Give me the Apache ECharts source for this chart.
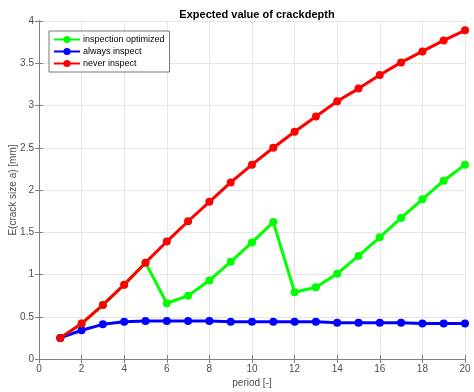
<!DOCTYPE html>
<html><head><meta charset="utf-8">
<script src="https://cdn.jsdelivr.net/npm/echarts@6/dist/echarts.min.js"></script>
<style>html,body{margin:0;padding:0;background:#fff}#c{width:474px;height:392px}</style>
</head><body><div id="c"></div>
<script>
const periods = [1,2,3,4,5,6,7,8,9,10,11,12,13,14,15,16,17,18,19,20];
const inspectionOptimized = [0.25,0.42,0.64,0.88,1.14,0.66,0.75,0.93,1.15,1.38,1.62,0.79,0.85,1.01,1.22,1.44,1.67,1.89,2.11,2.30];
const alwaysInspect = [0.25,0.34,0.41,0.44,0.45,0.45,0.45,0.45,0.44,0.44,0.44,0.44,0.44,0.43,0.43,0.43,0.43,0.42,0.42,0.42];
const neverInspect = [0.25,0.42,0.64,0.88,1.14,1.39,1.63,1.86,2.09,2.30,2.50,2.69,2.87,3.05,3.20,3.36,3.51,3.64,3.77,3.89];
const seriesNames = ['inspection optimized','always inspect','never inspect'];
const colors = ['#00ff00','#0000ff','#ff0000'];

const font = 'Liberation Sans, Arial, Helvetica, sans-serif';
const axisGray = '#4d4d4d';
function pairs(vals){ return periods.map((p,i)=>[p, vals[i]]); }
function mk(name, vals, color){
  return {name, type:'line', data: pairs(vals), color,
    lineStyle:{width:3,color}, itemStyle:{color},
    symbol:'circle', symbolSize:8, showSymbol:true, animation:false, z:2};
}
const chart = echarts.init(document.getElementById('c'), null, {renderer:'canvas'});
const baseAxis = {
  axisLine:{show:true,lineStyle:{color:'#808080',width:1}},
  axisTick:{show:true,inside:true,length:4,lineStyle:{color:'#808080'}},
  axisLabel:{color:axisGray,fontFamily:font,fontSize:10,margin:5},
};
chart.setOption({
  animation:false,
  title:{text:'Expected value of crackdepth', left:252, top:4, textAlign:'center',
    textStyle:{fontFamily:font,fontSize:11,fontWeight:'bold',color:'#000'}},
  grid:{left:39,right:9,top:21,bottom:33,containLabel:false,outerBoundsMode:'none'},
  legend:{data:seriesNames, orient:'vertical', left:49, top:31,
    itemWidth:26,itemHeight:9,itemGap:3,
    backgroundColor:'#fff', borderColor:'#555', borderWidth:0.8,
    padding:[4,5,4,4],
    textStyle:{fontFamily:font,fontSize:9,color:'#000',padding:[0,0,0,-2]}},
  xAxis:[
    Object.assign({type:'value',min:0,max:20,interval:2,position:'bottom',
      name:'period [-]',nameLocation:'middle',nameGap:19,nameMoveOverlap:false,
      nameTextStyle:{fontFamily:font,fontSize:10,color:axisGray},
      splitLine:{show:true,lineStyle:{color:'#e6e6e6',width:1}}}, baseAxis),
    Object.assign({}, baseAxis, {type:'value',min:0,max:20,interval:2,position:'top',
      axisLabel:{show:false},splitLine:{show:false}})
  ],
  yAxis:[
    Object.assign({type:'value',min:0,max:4,interval:0.5,position:'left',
      name:'E(crack size a) [mm]',nameLocation:'middle',nameGap:21,nameMoveOverlap:false,
      nameTextStyle:{fontFamily:font,fontSize:10,color:axisGray},
      splitLine:{show:true,lineStyle:{color:'#e6e6e6',width:1}}}, baseAxis),
    Object.assign({}, baseAxis, {type:'value',min:0,max:4,interval:0.5,position:'right',
      axisLabel:{show:false},splitLine:{show:false}})
  ],
  series:[
    mk(seriesNames[0], inspectionOptimized, colors[0]),
    mk(seriesNames[1], alwaysInspect, colors[1]),
    mk(seriesNames[2], neverInspect, colors[2])
  ]
});
</script></body></html>
